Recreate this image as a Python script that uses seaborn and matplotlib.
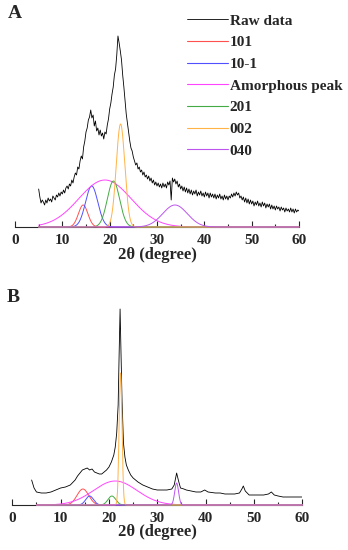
import numpy as np
import pandas as pd
import matplotlib
matplotlib.use("Agg")
import matplotlib.pyplot as plt
from matplotlib.lines import Line2D
import seaborn as sns

# ----------------------------
# Data (heights in arbitrary intensity units)
# ----------------------------
# Panel A raw pattern, 2theta from 5 to 60 in 0.25 degree steps
raw_a_x = np.arange(5.0, 60.001, 0.25)
raw_a_y = [38, 30, 24, 27, 25, 22, 27, 24, 29, 26, 28, 25, 31, 29, 27, 32, 30, 34, 31, 35,
           33, 37, 34, 39, 41, 38, 43, 41, 47, 44, 50, 54, 52, 60, 58, 66, 71, 68, 80, 86,
           95, 99, 107, 110, 117, 109, 112, 101, 106, 96, 99, 92, 97, 91, 94, 88, 95, 93, 102, 108,
           118, 124, 133, 140, 152, 158, 172, 191, 184, 176, 167, 152, 140, 126, 113, 104, 95, 86, 79, 76,
           70, 66, 62, 64, 58, 60, 55, 57, 52, 55, 50, 52, 48, 51, 46, 49, 44, 47, 42, 45,
           41, 44, 40, 43, 39, 44, 40, 43, 39, 45, 42, 46, 27, 49, 45, 48, 43, 46, 40, 43,
           38, 41, 36, 40, 35, 39, 34, 38, 33, 37, 32, 36, 33, 37, 31, 35, 32, 36, 31, 34,
           30, 35, 31, 34, 29, 34, 30, 33, 29, 33, 28, 32, 29, 33, 28, 31, 27, 32, 28, 31,
           27, 31, 29, 33, 30, 34, 31, 35, 32, 34, 29, 31, 27, 30, 25, 29, 24, 28, 23, 27,
           23, 26, 21, 25, 22, 26, 21, 24, 20, 25, 21, 24, 19, 23, 20, 23, 18, 22, 18, 21,
           17, 21, 18, 20, 16, 20, 17, 19, 15, 19, 16, 18, 15, 19, 15, 18, 14, 18, 15, 17,
           16]

# Panel B raw pattern
raw_b_x = [4.0, 4.5, 5, 6, 7, 8, 9, 10, 11, 12, 13, 13.5, 14, 14.5, 15, 15.5, 16, 16.5, 17, 17.5,
           18, 18.5, 19, 19.5, 20, 20.5, 21, 21.3, 21.6, 21.9, 22.1, 22.3, 22.5, 22.7, 23.0, 23.3,
           23.6, 24, 24.5, 25, 26, 27, 27.5, 28, 29, 30, 31, 32, 33, 33.5, 34, 34.4, 34.8, 35.5,
           36, 37, 38, 39, 39.8, 40.5, 42, 43, 44, 45, 46, 47, 47.5, 47.8, 48.2, 49, 50, 51, 52,
           53, 53.6, 54.2, 55, 56, 57, 58, 59, 60]
raw_b_y = [25, 17, 13, 12, 12, 13, 15, 17, 18, 20, 25, 29, 32, 35, 36, 37, 35, 36, 33, 32,
           31, 31, 33, 35, 38, 43, 50, 58, 72, 100, 150, 196, 150, 105, 62, 48,
           40, 35, 30, 27, 23, 20, 19, 18, 16, 15, 15, 15, 16, 20, 32, 24, 17, 16,
           15, 14, 13, 13, 15, 13, 12, 12, 11, 11, 11, 12, 16, 19, 14, 10, 10, 10, 10,
           11, 13, 10, 9, 8, 8, 8, 8, 8]

# Fitted peaks: name, centre, height, width (sigma)
peak_names = ["101", "10-1", "Amorphous peak", "201", "002", "040"]
peak_colors = ["#ff5050", "#5050ff", "#ff44ff", "#44aa44", "#ffb347", "#bb55ee"]
a_center = [14.4, 16.2, 19.0, 20.8, 22.3, 33.8]
a_height = [22, 41, 47, 46, 103, 22]
a_sigma = [1.0, 1.3, 5.5, 1.3, 0.9, 2.6]
b_center = [14.6, 16.0, 21.3, 20.6, 22.4, 34.0]
b_height = [16, 9, 24, 9, 132, 22]
b_sigma = [1.2, 0.8, 4.5, 0.8, 0.3, 0.4]

# ----------------------------
# Style
# ----------------------------
sns.set_style("ticks")
plt.rcParams["font.family"] = ["Liberation Serif", "DejaVu Serif"]
plt.rcParams["font.weight"] = "bold"

fig = plt.figure(figsize=(3.48, 5.5), dpi=100)
ax_a = fig.add_axes([15 / 348, 1 - 227 / 550, 284 / 348, 222 / 550])
ax_b = fig.add_axes([12.3 / 348, 1 - 505 / 550, 290 / 348, 200 / 550])


def draw_panel(ax, rx, ry, centers, heights, sigmas, ytop, legend, lpad):
    sns.lineplot(x=rx, y=ry, ax=ax, color="black", lw=0.6, zorder=3, legend=False)
    xs = np.linspace(5, 60, 1101)
    for name, col, c, h, s in zip(peak_names, peak_colors, centers, heights, sigmas):
        df = pd.DataFrame({"x": xs, "y": h * np.exp(-0.5 * ((xs - c) / s) ** 2)})
        sns.lineplot(data=df, x="x", y="y", ax=ax, color=col, lw=0.7, legend=False,
                     zorder=4, clip_on=False)
    ax.set_xlim(0, 60)
    ax.set_ylim(0, ytop)
    ax.set_xticks(range(0, 61, 10))
    ax.set_xticks(range(5, 60, 10), minor=True)
    ax.tick_params(axis="x", direction="in", length=4, width=0.8, labelsize=11, pad=5)
    ax.tick_params(axis="x", which="minor", direction="in", length=2, width=0.8)
    ax.set_yticks([])
    ax.set_ylabel("")
    ax.set_xlabel("2θ (degree)", fontsize=12, fontweight="bold", labelpad=lpad)
    for sp in ["left", "right", "top"]:
        ax.spines[sp].set_visible(False)
    ax.spines["bottom"].set_linewidth(0.8)
    if legend:
        handles = [Line2D([], [], color="black", lw=0.6)]
        handles += [Line2D([], [], color=col, lw=0.8) for col in peak_colors]
        ax.legend(handles, ["Raw data"] + peak_names,
                  loc="upper left", bbox_to_anchor=(187 / 348, 1 - 14 / 550),
                  bbox_transform=fig.transFigure, frameon=False, fontsize=11,
                  handlelength=2.7, handletextpad=0.1, labelspacing=0.52,
                  borderpad=0, borderaxespad=0)


draw_panel(ax_a, raw_a_x, raw_a_y, a_center, a_height, a_sigma, 222, True, 0)
draw_panel(ax_b, raw_b_x, raw_b_y, b_center, b_height, b_sigma, 200, False, -1)

fig.text(8 / 348, 1 - 13 / 550, "A", fontsize=14, fontweight="bold", va="center")
fig.text(7 / 348, 1 - 297 / 550, "B", fontsize=14, fontweight="bold", va="center")

plt.savefig("out.png", dpi=100)
plt.close()
